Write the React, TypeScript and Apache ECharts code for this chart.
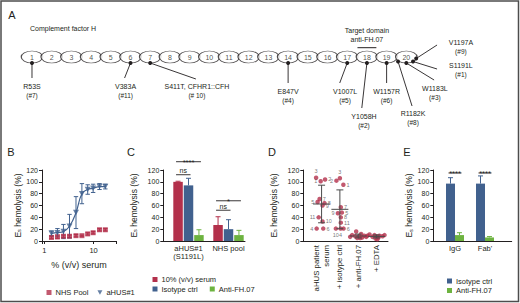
import React, { useEffect, useRef } from 'react';
import * as echarts from 'echarts';

const FONT = '"Liberation Sans", Arial, sans-serif';
const INK = '#231f20';
const RED = '#b3304b';
const BLUE = '#41618e';
const GREEN = '#6db340';

// ---------------- Panel A : CFH domains and mutations
const domainNumbers = [1, 2, 3, 4, 5, 6, 7, 8, 9, 10, 11, 12, 13, 14, 15, 16, 17, 18, 19, 20];
const mutationNames = ['R53S', 'V383A', 'S411T, CFHR1::CFH', 'E847V', 'V1007L', 'Y1058H', 'W1157R', 'R1182K', 'W1183L', 'S1191L', 'V1197A'];
const mutationPatients = ['#7', '#11', '# 10', '#4', '#5', '#2', '#6', '#8', '#3', '#1', '#9'];
const mutationDomains = [1, 6, 7, 14, 17, 18, 19, 20, 20, 20, 20];
const targetDomain = 18;
// layout of the schematic (domain units horizontally, px-like rows vertically)
const ROW_Y = 57;
const mutDotOffset = [[0, 63], [0, 63], [0, 63], [0, 63], [0, 63], [0, 63], [0, 63], [-0.42, 61.5], [0, 63], [0.34, 61.5], [0.5, 58.5]];
const mutLineEnd = [[1, 78], [5.7, 78], [9.32, 79], [14, 83], [16.62, 83], [17.74, 108], [19, 83], [20.29, 106], [21.41, 80], [21.56, 69], [21.56, 45]];
const mutLabelAt = [[1, 86], [5.75, 86], [9.37, 86], [14, 91], [16.89, 91], [17.85, 116], [19, 91], [20.34, 113], [21.45, 88], [22.77, 65], [22.77, 42]];

// ---------------- Panel B : dose response
const bConc = [1.4, 1.85, 2.45, 3.25, 4.4, 5.8, 7.6, 9.8, 13.2, 17.3];
const bNhsMean = [6, 7, 8, 8, 9, 9, 12, 14, 19, 19];
const bNhsSd = [2, 3, 2, 2, 2, 1, 2, 2, 2, 2];
const bAhusMean = [13, 14, 16, 25, 48, 80, 87, 89, 92, 92];
const bAhusSd = [4, 7, 12, 20, 27, 17, 8, 7, 5, 4];
const bTicks = [1, 10];

// ---------------- Panel C : grouped bars
const cGroups = ['aHUS#1\n(S1191L)', 'NHS pool'];
const cNames = ['10% (v/v) serum', 'Isotype ctrl', 'Anti-FH.07'];
const cMeans = [[100, 27], [94, 20], [10, 10]];
const cSds = [[1, 14], [12, 16], [9, 8]];
const cSigLabels = ['****', 'ns', '*', 'ns'];
const cSigGroup = [1, 1, 2, 2];
const cSigFrom = [0, 0, 0, 0];
const cSigTo = [2, 1, 2, 1];
const cSigY = [134, 112, 68, 52];

// ---------------- Panel D : patient sera
const dCats = ['aHUS patient\nserum', '+ isotype ctrl', '+ anti-FH.07', '+ EDTA'];
const dSerum = [101, 104, 107, 21, 66, 21, 71, 64, 60, 33, 40];
const dIsotype = [95, 102, 106, 21, 48, 21, 57, 40, 47, 21, 31];
const dAnti = [16, 12, 10, 9, 8, 8, 7, 7, 6, 5, 5];
const dEdta = [11, 10, 10, 9, 9, 8, 8, 7, 6, 4, 3];
const dPatients = ['1', '2', '3', '4', '5', '6', '7', '8', '9', '10', '11'];
// horizontal scatter of points inside a category (category units)
const dJitter = [
  [-0.05, 0.19, -0.3, -0.27, -0.22, 0.09, -0.11, 0.16, 0.05, 0.05, -0.16],
  [0.19, -0.19, 0, 0.04, 0.11, 0.2, 0.05, 0.05, -0.11, -0.22, 0.05],
  [-0.11, 0.16, -0.33, 0.33, -0.16, 0.05, 0.44, -0.44, 0.22, -0.05, 0.11],
  [-0.38, 0.44, -0.11, 0.16, -0.49, 0, 0.33, -0.22, 0.11, -0.05, 0.05],
];
const dLabelPos = [
  ['left', 'right', 'top', 'left', 'left', 'right', 'right', 'right', 'right', 'right', 'left'],
  ['right', 'left', 'top', 'bottom', 'right', 'right', 'right', 'right', 'left', 'bottom', 'right'],
];

// ---------------- Panel E : IgG vs Fab'
const eGroups = ['IgG', "Fab'"];
const eNames = ['Isotype ctrl', 'Anti-FH.07'];
const eMeans = [[97, 97], [10, 6]];
const eSds = [[10, 13], [4, 1.5]];
const eSigLabels = ['****', '****'];
const eSigGroup = [1, 2];
const eSigY = [115, 115];

const TRI_DOWN = 'path://M0,0L10,0L5,9Z';
const ELLIPSE = 'path://M0,5A10,5,0,1,0,20,5A10,5,0,1,0,0,5Z';

const font = (s: number) => `${s}px ${FONT}`;
const txt = (s: number) => ({ fontSize: s, fontFamily: FONT, color: INK });

const mean = (a: number[]) => a.reduce((s, v) => s + v, 0) / a.length;
const sd = (a: number[]) => {
  const m = mean(a);
  return Math.sqrt(a.reduce((s, v) => s + (v - m) * (v - m), 0) / (a.length - 1));
};

const yAxisFor = (gi: number, gap: number) => ({
  gridIndex: gi,
  type: 'value',
  min: 0,
  max: 120,
  interval: 20,
  axisLine: { show: true, onZero: false, lineStyle: { color: INK, width: 1 } },
  axisTick: { show: true, length: 3, lineStyle: { color: INK, width: 1 } },
  axisLabel: { ...txt(7), margin: 4 },
  splitLine: { show: false },
  name: '{e|E}{s|s}{e| hemolysis (%)}',
  nameLocation: 'middle',
  nameRotate: 90,
  nameGap: gap,
  nameTextStyle: {
    ...txt(8.5),
    rich: {
      e: { fontSize: 8.5, fontFamily: FONT, color: INK, verticalAlign: 'bottom', lineHeight: 10 },
      s: { fontSize: 5.5, fontFamily: FONT, color: INK, verticalAlign: 'bottom', lineHeight: 3 },
    },
  },
});

const catXAxis = (gi: number, min: number, max: number, labels: string[], extra: any = {}) => ({
  gridIndex: gi,
  type: 'value',
  min,
  max,
  axisLine: { show: true, onZero: false, lineStyle: { color: INK, width: 1 } },
  axisTick: { show: false },
  splitLine: { show: false },
  axisLabel: {
    ...txt(7.5),
    lineHeight: 8.5,
    margin: 3,
    customValues: labels.map((_, i) => i + 1),
    formatter: (v: number) => {
      const i = Math.round(v) - 1;
      return Math.abs(v - (i + 1)) < 1e-6 && labels[i] !== undefined ? labels[i] : '';
    },
    ...extra,
  },
});

function textEl(x: number, y: number, text: string, size: number, va = 'middle', align = 'center', fill = INK, lh = size + 2) {
  return {
    type: 'text',
    x,
    y,
    style: { text, font: font(size), fill, align, verticalAlign: va, textAlign: align, textVerticalAlign: va, lineHeight: lh },
  };
}
function lineEl(x1: number, y1: number, x2: number, y2: number, stroke = INK, w = 1) {
  return { type: 'line', shape: { x1, y1, x2, y2 }, style: { stroke, lineWidth: w } };
}

function barErrSeries(axis: number, means: number[][], sds: number[][], colors: string[], bw: number, gapRatio: number) {
  const data: number[][] = [];
  means.forEach((row, si) => row.forEach((m, gi) => data.push([gi + 1, m, m + sds[si][gi], si])));
  const n = means.length;
  return {
    type: 'custom',
    xAxisIndex: axis,
    yAxisIndex: axis,
    data,
    z: 3,
    renderItem: (params: any, api: any) => {
      const p0 = api.coord([api.value(0), api.value(1)]);
      const p1 = api.coord([api.value(0), api.value(2)]);
      const si = api.value(3);
      const off = (si - (n - 1) / 2) * bw * (1 + gapRatio);
      const cx = p0[0] + off;
      const c = colors[si];
      return {
        type: 'group',
        children: [lineEl(cx, p0[1], cx, p1[1], c, 1), lineEl(cx - 2.5, p1[1], cx + 2.5, p1[1], c, 1)],
      };
    },
  };
}

function sigSeries(axis: number, labels: string[], groups: number[], from: number[], to: number[], ys: number[], n: number, bw: number, gapRatio: number) {
  return {
    type: 'custom',
    xAxisIndex: axis,
    yAxisIndex: axis,
    data: labels.map((_, i) => [groups[i], ys[i]]),
    z: 4,
    renderItem: (params: any, api: any) => {
      const i = params.dataIndex;
      const b = api.coord([groups[i], ys[i]]);
      const step = bw * (1 + gapRatio);
      const x1 = b[0] + (from[i] - (n - 1) / 2) * step - 2;
      const x2 = b[0] + (to[i] - (n - 1) / 2) * step + 2;
      const star = labels[i].indexOf('*') >= 0;
      return {
        type: 'group',
        children: [
          lineEl(x1, b[1], x2, b[1], INK, 0.9),
          star
            ? textEl((x1 + x2) / 2, b[1] + 0.5, labels[i], 7.5, 'middle', 'center', INK, 6)
            : textEl((x1 + x2) / 2, b[1] - 0.5, labels[i], 7, 'bottom', 'center', INK, 7),
        ],
      };
    },
  };
}

function buildOption() {
  const BW_C = 9.5;
  const GAP_C = 0.1;
  const BW_E = 9;
  const GAP_E = 0;
  const dAll = [dSerum, dIsotype, dAnti, dEdta];
  const cColors = [RED, BLUE, GREEN];
  const eColors = [BLUE, GREEN];

  const dPoints: any[] = [];
  dAll.forEach((vals, k) =>
    vals.forEach((v, i) => {
      dPoints.push({
        value: [k + 1 + dJitter[k][i], v],
        label:
          k < 2
            ? { show: true, formatter: dPatients[i], position: dLabelPos[k][i], distance: 1, fontSize: 5.5, fontFamily: FONT, color: '#555' }
            : { show: false },
      });
    })
  );

  const series: any[] = [
    // ---- A
    {
      type: 'scatter',
      xAxisIndex: 0,
      yAxisIndex: 0,
      symbol: ELLIPSE,
      symbolSize: [21.5, 12],
      itemStyle: { color: '#fff', borderColor: INK, borderWidth: 0.9 },
      label: { show: true, position: 'inside', formatter: (p: any) => String(p.value[0]), ...txt(7) },
      data: domainNumbers.map((d) => [d, ROW_Y]),
      silent: true,
      z: 2,
    },
    {
      type: 'custom',
      xAxisIndex: 0,
      yAxisIndex: 0,
      z: 3,
      data: mutationNames.map((_, i) => [mutationDomains[i], ROW_Y]),
      renderItem: (params: any, api: any) => {
        const i = params.dataIndex;
        const dot = api.coord([mutationDomains[i] + mutDotOffset[i][0], mutDotOffset[i][1]]);
        const end = api.coord(mutLineEnd[i]);
        const lab = api.coord(mutLabelAt[i]);
        return {
          type: 'group',
          children: [
            lineEl(dot[0], dot[1], end[0], end[1], INK, 0.9),
            { type: 'circle', shape: { cx: dot[0], cy: dot[1], r: 2 }, style: { fill: INK } },
            textEl(lab[0], lab[1], mutationNames[i], 7),
            textEl(lab[0], lab[1] + 9, '(' + mutationPatients[i] + ')', 6.5),
          ],
        };
      },
    },
    {
      type: 'custom',
      xAxisIndex: 0,
      yAxisIndex: 0,
      z: 3,
      data: [[targetDomain, 48]],
      renderItem: (params: any, api: any) => {
        const a = api.coord([targetDomain - 0.48, 47.7]);
        const b = api.coord([targetDomain + 0.48, 47.7]);
        const c = api.coord([targetDomain, 30]);
        return {
          type: 'group',
          children: [lineEl(a[0], a[1], b[0], b[1], INK, 1), textEl(c[0], c[1], 'Target domain', 7), textEl(c[0], c[1] + 9, 'anti-FH.07', 7)],
        };
      },
    },
    // ---- B
    {
      name: 'aHUS fit',
      type: 'line',
      xAxisIndex: 1,
      yAxisIndex: 1,
      smooth: 0.45,
      showSymbol: false,
      lineStyle: { color: BLUE, width: 1.2 },
      data: bConc.map((c, i) => [c, bAhusMean[i]]),
      z: 2,
    },
    {
      type: 'custom',
      xAxisIndex: 1,
      yAxisIndex: 1,
      z: 3,
      data: [
        ...bConc.map((c, i) => [c, bNhsMean[i] - bNhsSd[i], bNhsMean[i] + bNhsSd[i], 0]),
        ...bConc.map((c, i) => [c, bAhusMean[i] - bAhusSd[i], bAhusMean[i] + bAhusSd[i], 1]),
      ],
      renderItem: (params: any, api: any) => {
        const lo = api.coord([api.value(0), api.value(1)]);
        const hi = api.coord([api.value(0), api.value(2)]);
        const c = api.value(3) === 0 ? RED : BLUE;
        return {
          type: 'group',
          children: [
            lineEl(lo[0], lo[1], hi[0], hi[1], c, 1),
            lineEl(lo[0] - 2.2, lo[1], lo[0] + 2.2, lo[1], c, 1),
            lineEl(hi[0] - 2.2, hi[1], hi[0] + 2.2, hi[1], c, 1),
          ],
        };
      },
    },
    {
      name: 'NHS Pool',
      type: 'scatter',
      xAxisIndex: 1,
      yAxisIndex: 1,
      symbol: 'rect',
      symbolSize: 5,
      itemStyle: { color: RED },
      data: bConc.map((c, i) => [c, bNhsMean[i]]),
      z: 4,
    },
    {
      name: 'aHUS#1',
      type: 'scatter',
      xAxisIndex: 1,
      yAxisIndex: 1,
      symbol: TRI_DOWN,
      symbolSize: [6, 5.5],
      itemStyle: { color: BLUE },
      data: bConc.map((c, i) => [c, bAhusMean[i]]),
      z: 4,
    },
    // ---- C
    ...cNames.map((nm, si) => ({
      name: nm,
      type: 'bar',
      xAxisIndex: 2,
      yAxisIndex: 2,
      barWidth: BW_C,
      barGap: GAP_C * 100 + '%',
      itemStyle: { color: cColors[si] },
      data: cMeans[si].map((v, gi) => [gi + 1, v]),
      z: 2,
    })),
    barErrSeries(2, cMeans, cSds, cColors, BW_C, GAP_C),
    sigSeries(2, cSigLabels, cSigGroup, cSigFrom, cSigTo, cSigY, 3, BW_C, GAP_C),
    // ---- D
    {
      type: 'scatter',
      xAxisIndex: 3,
      yAxisIndex: 3,
      symbolSize: 4.5,
      itemStyle: { color: RED },
      data: dPoints,
      z: 3,
    },
    {
      type: 'custom',
      xAxisIndex: 3,
      yAxisIndex: 3,
      z: 4,
      data: dAll.map((vals, k) => [k + 1, mean(vals), sd(vals)]),
      renderItem: (params: any, api: any) => {
        const x = api.value(0);
        const m = api.value(1);
        const s = api.value(2);
        const pm = api.coord([x, m]);
        const pt = api.coord([x, m + s]);
        const pb = api.coord([x, Math.max(0, m - s)]);
        const c = '#4a4a4a';
        return {
          type: 'group',
          children: [
            lineEl(pm[0] - 8.5, pm[1], pm[0] + 8.5, pm[1], c, 1),
            lineEl(pt[0], pt[1], pb[0], pb[1], c, 1),
            lineEl(pt[0] - 3.5, pt[1], pt[0] + 3.5, pt[1], c, 1),
            lineEl(pb[0] - 3.5, pb[1], pb[0] + 3.5, pb[1], c, 1),
          ],
        };
      },
    },
    // ---- E
    ...eNames.map((nm, si) => ({
      name: nm,
      type: 'bar',
      xAxisIndex: 4,
      yAxisIndex: 4,
      barWidth: BW_E,
      barGap: GAP_E * 100 + '%',
      itemStyle: { color: eColors[si] },
      data: eMeans[si].map((v, gi) => [gi + 1, v]),
      z: 2,
    })),
    barErrSeries(4, eMeans, eSds, eColors, BW_E, GAP_E),
    sigSeries(4, eSigLabels, eSigGroup, [0, 0], [1, 1], eSigY, 2, BW_E, GAP_E),
  ];

  const legendBase = {
    itemWidth: 5,
    itemHeight: 5,
    textStyle: { ...txt(7.5), padding: [0, 0, 0, -1] },
    selectedMode: false,
    padding: 0,
  };

  return {
    animation: false,
    backgroundColor: '#fff',
    textStyle: { fontFamily: FONT },
    grid: [
      { left: 0, top: 0, width: 520, height: 130 },
      { left: 42, top: 170, width: 74, height: 71 },
      { left: 163.3, top: 170, width: 81.7, height: 71 },
      { left: 303.3, top: 170, width: 84.7, height: 71 },
      { left: 433.3, top: 170, width: 78.4, height: 71 },
    ],
    xAxis: [
      { gridIndex: 0, type: 'value', min: -0.624, max: 25.77, show: false },
      {
        gridIndex: 1,
        type: 'log',
        logBase: 10,
        min: 0.9,
        max: 28.5,
        axisLine: { show: true, onZero: false, lineStyle: { color: INK, width: 1 } },
        axisTick: { show: true, length: 3, lineStyle: { color: INK } },
        splitLine: { show: false },
        axisLabel: {
          ...txt(7.5),
          margin: 5,
          formatter: (v: number) => (bTicks.some((t) => Math.abs(t - v) < 1e-6) ? String(v) : ''),
        },
        name: '% (v/v) serum',
        nameLocation: 'middle',
        nameGap: 19,
        nameTextStyle: txt(9),
      },
      catXAxis(2, 0.37, 2.4125, cGroups),
      catXAxis(3, 0, 4.63, dCats, { rotate: 90, margin: 4, lineHeight: 10, fontSize: 7.8 }),
      catXAxis(4, 0.277, 2.89, eGroups),
    ],
    yAxis: [
      { gridIndex: 0, type: 'value', min: 0, max: 130, inverse: true, show: false },
      yAxisFor(1, 20),
      yAxisFor(2, 25),
      yAxisFor(3, 25),
      yAxisFor(4, 18),
    ],
    legend: [
      {
        ...legendBase,
        left: 46.5,
        top: 288.5,
        itemGap: 9,
        data: [
          { name: 'NHS Pool', icon: 'rect' },
          { name: 'aHUS#1', icon: TRI_DOWN },
        ],
      },
      { ...legendBase, left: 152.5, top: 275.5, data: [{ name: '10% (v/v) serum', icon: 'rect' }] },
      {
        ...legendBase,
        left: 152.5,
        top: 285,
        itemGap: 12,
        data: [
          { name: 'Isotype ctrl', icon: 'rect' },
          { name: 'Anti-FH.07', icon: 'rect' },
        ],
      },
      {
        ...legendBase,
        left: 447,
        top: 277,
        orient: 'vertical',
        itemGap: 1.5,
        data: [
          { name: 'Isotype ctrl', icon: 'rect' },
          { name: 'Anti-FH.07', icon: 'rect' },
        ],
      },
    ],
    graphic: [
      { type: 'rect', shape: { x: 1, y: 1, width: 517.5, height: 300.5 }, style: { fill: 'none', stroke: '#4d4d4d', lineWidth: 1.5 }, silent: true, z: 0 },
      textEl(12, 15, 'A', 11),
      textEl(30, 28, 'Complement factor H', 7, 'middle', 'left'),
      textEl(11, 152, 'B', 11),
      textEl(131, 152, 'C', 11),
      textEl(272, 152, 'D', 11),
      textEl(407, 152, 'E', 11),
    ],
    series,
  };
}

export default function App() {
  const ref = useRef<HTMLDivElement>(null);
  useEffect(() => {
    document.body.style.margin = '0';
    const chart = echarts.init(ref.current as HTMLDivElement, undefined, { renderer: 'svg', width: 520, height: 303 });
    chart.setOption(buildOption() as any);
    return () => chart.dispose();
  }, []);
  return <div ref={ref} style={{ width: 520, height: 303, background: '#fff' }} />;
}
